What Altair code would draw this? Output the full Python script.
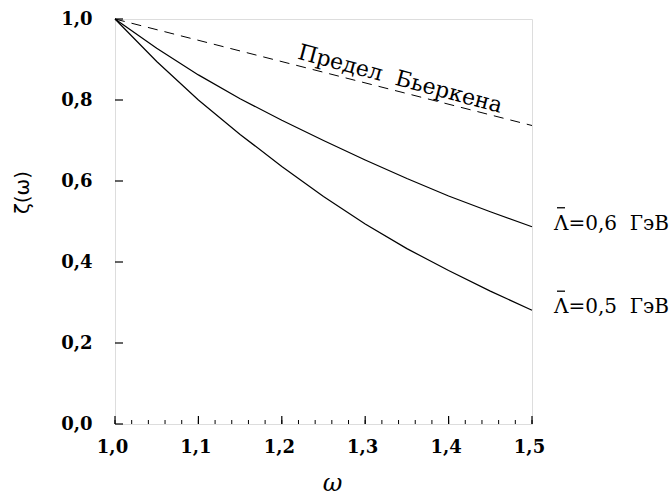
import altair as alt
import pandas as pd

# --- data ---
omega = [1.00, 1.05, 1.10, 1.15, 1.20, 1.25, 1.30, 1.35, 1.40, 1.45, 1.50]
zeta_06 = [1.000, 0.928, 0.862, 0.803, 0.750, 0.700, 0.652, 0.606, 0.563, 0.524, 0.487]
zeta_05 = [1.000, 0.895, 0.800, 0.715, 0.636, 0.562, 0.494, 0.433, 0.379, 0.328, 0.281]
bj_omega = [1.00, 1.50]
bj_zeta = [1.000, 0.737]

x_major = [1.0, 1.1, 1.2, 1.3, 1.4, 1.5]
x_minor = [1.00, 1.02, 1.04, 1.06, 1.08, 1.10, 1.12, 1.14, 1.16, 1.18, 1.20,
           1.22, 1.24, 1.26, 1.28, 1.30, 1.32, 1.34, 1.36, 1.38, 1.40,
           1.42, 1.44, 1.46, 1.48, 1.50]
y_major = [0.0, 0.2, 0.4, 0.6, 0.8, 1.0]

curve_labels = ["\u039b=0,6\u00a0 \u0413\u044d\u0412", "\u039b=0,5\u00a0 \u0413\u044d\u0412"]
curve_label_x = [1.5, 1.5]
curve_label_y = [0.487, 0.281]

bj_label = ["\u041f\u0440\u0435\u0434\u0435\u043b\u00a0 \u0411\u044c\u0435\u0440\u043a\u0435\u043d\u0430"]
bj_label_x = [1.342]
bj_label_y = [0.852]

serif = "DejaVu Serif"

curves = pd.DataFrame({
    "omega": omega * 2,
    "zeta": zeta_06 + zeta_05,
    "curve": ["0.6"] * len(omega) + ["0.5"] * len(omega),
})
bj = pd.DataFrame({"omega": bj_omega, "zeta": bj_zeta})
lab = pd.DataFrame({"omega": curve_label_x, "zeta": curve_label_y, "text": curve_labels})
bjl = pd.DataFrame({"omega": bj_label_x, "zeta": bj_label_y, "text": bj_label})
xmaj = pd.DataFrame({"v": x_major})
xmin = pd.DataFrame({"v": x_minor})
ymaj = pd.DataFrame({"v": y_major})

xscale = alt.Scale(domain=[1.0, 1.5], nice=False, zero=False)
yscale = alt.Scale(domain=[0.0, 1.0], nice=False)

lbl_expr = "replace(format(datum.value, '.1f'), '.', ',')"

x_axis = alt.Axis(
    values=x_major, labelExpr=lbl_expr, grid=False, ticks=False,
    domain=False, labelFlush=False, labelOverlap=False,
    labelFont=serif, labelFontSize=18, labelFontWeight="bold", labelColor="black",
    labelPadding=14, labelOffset=-3,
    title="\u03c9", titleFont=serif, titleFontStyle="italic", titleFontWeight="normal",
    titleFontSize=24, titleColor="black", titleX=217, titleY=59, titleBaseline="middle",
)
y_axis = alt.Axis(
    values=y_major, labelExpr=lbl_expr, grid=False, ticks=False,
    domain=False, labelFlush=False, labelOverlap=False, offset=20,
    labelFont=serif, labelFontSize=18, labelFontWeight="bold", labelColor="black",
    labelPadding=3,
    title="\u03b6(\u03c9)", titleFont="DejaVu Sans", titleFontWeight="normal",
    titleFontSize=20, titleColor="black", titleX=-73, titleY=173,
    titleBaseline="middle", titleAlign="center", titleAngle=270,
)

base_lines = alt.Chart(curves).mark_line(color="black", strokeWidth=1.2).encode(
    x=alt.X("omega:Q", scale=xscale, axis=x_axis),
    y=alt.Y("zeta:Q", scale=yscale, axis=y_axis),
    detail="curve:N",
)

bj_line = alt.Chart(bj).mark_line(color="black", strokeWidth=1, strokeDash=[10, 7]).encode(
    x=alt.X("omega:Q", scale=xscale),
    y=alt.Y("zeta:Q", scale=yscale),
)

xminor_ticks = alt.Chart(xmin).mark_rule(color="black", strokeWidth=1).encode(
    x=alt.X("v:Q", scale=xscale), y=alt.value(405), y2=alt.value(401)
)
xmajor_ticks = alt.Chart(xmaj).mark_rule(color="black", strokeWidth=1.2).encode(
    x=alt.X("v:Q", scale=xscale), y=alt.value(405), y2=alt.value(397)
)
ymajor_ticks = alt.Chart(ymaj).mark_rule(color="black", strokeWidth=1.2).encode(
    y=alt.Y("v:Q", scale=yscale), x=alt.value(0), x2=alt.value(8)
)

curve_text = alt.Chart(lab).mark_text(
    align="left", baseline="middle", dx=22, dy=-3, font=serif, fontSize=20, color="black"
).encode(
    x=alt.X("omega:Q", scale=xscale), y=alt.Y("zeta:Q", scale=yscale), text="text:N"
)

# macron bar over the Lambda
macron = alt.Chart(lab).mark_tick(
    orient="horizontal", color="black", size=8, thickness=1.3, opacity=1
).encode(
    x=alt.X("omega:Q", scale=xscale), y=alt.Y("zeta:Q", scale=yscale),
    xOffset=alt.value(29), yOffset=alt.value(-19),
)

bj_text = alt.Chart(bjl).mark_text(
    align="center", baseline="middle", angle=15, font=serif, fontSize=22, color="black"
).encode(
    x=alt.X("omega:Q", scale=xscale), y=alt.Y("zeta:Q", scale=yscale), text="text:N"
)

chart = alt.layer(
    base_lines, bj_line, xminor_ticks, xmajor_ticks, ymajor_ticks, curve_text, macron, bj_text
).properties(
    width=417, height=405,
    autosize=alt.AutoSizeParams(type="none"),
    padding={"left": 115, "top": 19, "right": 139, "bottom": 74},
).configure_view(
    stroke="black", strokeWidth=1.5
).configure(background="white")

chart.save("out.html", embed_options={"renderer": "svg", "actions": False})
